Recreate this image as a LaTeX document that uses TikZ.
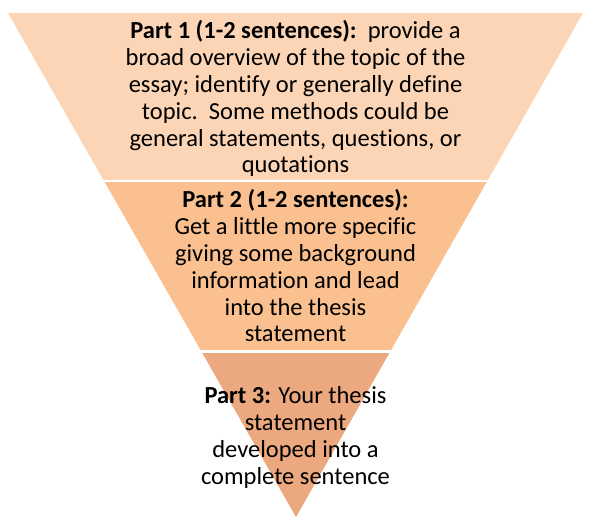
\documentclass[tikz,border=0pt]{standalone}
\usepackage{fontspec}
\setmainfont[Ligatures={NoCommon}]{Carlito}
\definecolor{bandA}{HTML}{FBD5B5}
\definecolor{bandB}{HTML}{FAC090}
\definecolor{bandC}{HTML}{ECA87E}
\begin{document}
\begin{tikzpicture}[x=1pt,y=-1pt,
  parttext/.style={align=center,inner sep=0pt,anchor=north,text=black,
    font=\fontsize{24.5}{26.8}\selectfont}]
\useasboundingbox (0,0) rectangle (600,525);
\coordinate (tl) at (8,13);
\coordinate (tr) at (583,13);
\coordinate (ap) at (296,517);
\begin{scope}
  \clip (tl) -- (tr) -- (ap) -- cycle;
  \fill[bandA] (0,0) rectangle (600,181.2);
  \fill[bandB] (0,181.2) rectangle (600,351.3);
  \fill[bandC] (0,351.3) rectangle (600,525);
  \draw[white,line width=2.5pt] (0,181.2) -- (600,181.2);
  \draw[white,line width=2.5pt] (0,351.3) -- (600,351.3);
\end{scope}
\node[parttext] (p1) at (295.5,20.5) {\textbf{Part 1 (1-2 sentences):}\ \ provide a\\
broad overview of the topic of the\\
essay; identify or generally define\\
topic.\ \ Some methods could be\\
general statements, questions, or\\
quotations};
\node[parttext] (p2) at (295.5,189.5) {\textbf{Part 2 (1-2 sentences):}\\
Get a little more specific\\
giving some background\\
information and lead\\
into the thesis\\
statement};
\node[parttext] (p3) at (295.5,386.5) {\textbf{Part 3:} Your thesis\\
statement\\
developed into a\\
complete sentence};
\end{tikzpicture}
\end{document}
